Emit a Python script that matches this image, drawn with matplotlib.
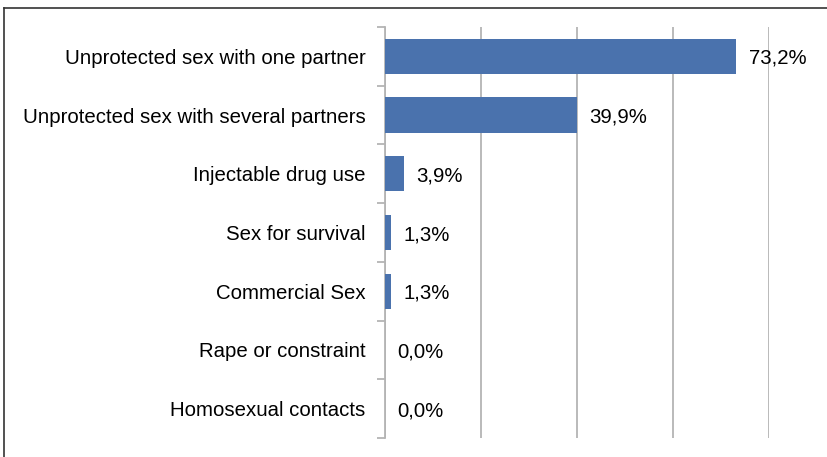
import matplotlib.pyplot as plt
from matplotlib.lines import Line2D

categories = [
    "Unprotected sex with one partner",
    "Unprotected sex with several partners",
    "Injectable drug use",
    "Sex for survival",
    "Commercial Sex",
    "Rape or constraint",
    "Homosexual contacts",
]
values = [73.2, 39.9, 3.9, 1.3, 1.3, 0.0, 0.0]
value_labels = ["73,2%", "39,9%", "3,9%", "1,3%", "1,3%", "0,0%", "0,0%"]
x_ticks = [0, 20, 40, 60, 80]

BAR = "#4a72ad"
GRID = "#b4b4b4"

plt.rcParams["font.family"] = ["Liberation Sans", "DejaVu Sans"]

fig = plt.figure(figsize=(8.28, 4.57), dpi=100)
ax = fig.add_axes([385 / 828, 1 - 438 / 457, 384 / 828, 411 / 457])

pos = list(range(len(categories)))
ax.barh(pos, values, height=0.6, color=BAR, zorder=3)
ax.set_ylim(len(categories) - 0.5, -0.5)
ax.set_xlim(0, 80)

ax.set_xticks(x_ticks)
ax.set_xticklabels([])
ax.tick_params(axis="x", length=0)
ax.grid(axis="x", color=GRID, linewidth=1.3, zorder=0)

# category labels at bar centres, tick marks on category boundaries
ax.set_yticks(pos)
ax.set_yticklabels(categories, fontsize=14.7)
ax.tick_params(axis="y", which="major", length=0, pad=14)
ax.set_yticks([p - 0.5 for p in range(len(categories) + 1)], minor=True)
ax.tick_params(axis="y", which="minor", length=6, width=1.3, color=GRID)

for s in ("top", "right", "bottom"):
    ax.spines[s].set_visible(False)
ax.spines["left"].set_color(GRID)
ax.spines["left"].set_linewidth(1.3)

for p, v, lab in zip(pos, values, value_labels):
    ax.annotate(lab, (v, p), xytext=(9, -1.5), textcoords="offset points",
                va="center", ha="left", fontsize=14.7,
                annotation_clip=False, zorder=4)

# chart frame: top and left edges
fig.add_artist(Line2D([4 / 828, 4 / 828], [0, 1 - 8 / 457], transform=fig.transFigure,
                      color="#333333", linewidth=1.2))
fig.add_artist(Line2D([4 / 828, 1], [1 - 8 / 457, 1 - 8 / 457], transform=fig.transFigure,
                      color="#333333", linewidth=1.2))

fig.savefig("out.png", dpi=100)
